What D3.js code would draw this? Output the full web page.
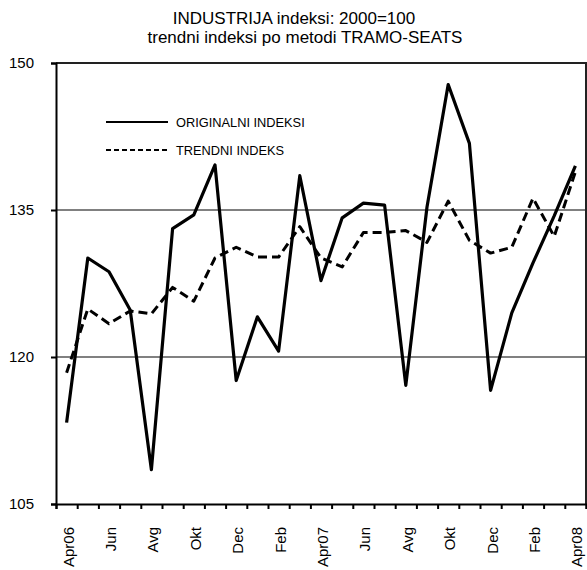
<!doctype html>
<html>
<head>
<script src="https://d3js.org/d3.v7.min.js"></script>
<style>
  body { margin: 0; background: #fff; }
  text { font-family: Arial, "Liberation Sans", sans-serif; fill: #000; }
</style>
</head>
<body>
<svg width="587" height="570"></svg>
<script>
// months Apr06 .. Apr08
var months = ["Apr06","Maj06","Jun06","Jul06","Avg06","Sep06","Okt06","Nov06","Dec06","Jan07","Feb07","Mar07",
              "Apr07","Maj07","Jun07","Jul07","Avg07","Sep07","Okt07","Nov07","Dec07","Jan08","Feb08","Mar08","Apr08"];
// shown tick labels (every second month)
var tickLabels = ["Apr06","Jun","Avg","Okt","Dec","Feb","Apr07","Jun","Avg","Okt","Dec","Feb","Apr08"];
var original = [113.3, 130.1, 128.7, 124.8, 108.5, 133.1, 134.5, 139.6, 117.6, 124.1, 120.6, 138.5,
                127.8, 134.2, 135.7, 135.5, 117.1, 135.3, 147.8, 141.8, 116.6, 124.5, 129.6, 134.4, 139.5];
var trend = [118.4, 124.9, 123.4, 124.7, 124.4, 127.1, 125.7, 130.1, 131.2, 130.2, 130.2, 133.3,
             130.1, 129.2, 132.7, 132.7, 132.9, 131.7, 135.9, 131.9, 130.6, 131.2, 136.2, 132.3, 138.9];
var yTicks = [105, 120, 135, 150];

var svg = d3.select("svg"),
    pLeft = 56, pRight = 586, pTop = 63, pBottom = 504;

var x = d3.scaleBand().domain(months).range([pLeft, pRight]).padding(0);
var xIdx = d3.scaleLinear().domain([0, months.length]).range([pLeft, pRight]);
var y = d3.scaleLinear().domain([105, 150]).range([pBottom, pTop]);

// Title
svg.append("text").attr("x", 294).attr("y", 24).attr("text-anchor", "middle")
   .style("font-size", "17px").text("INDUSTRIJA indeksi: 2000=100");
svg.append("text").attr("x", 305).attr("y", 43).attr("text-anchor", "middle")
   .style("font-size", "17px").text("trendni indeksi po metodi TRAMO-SEATS");

// gridlines
svg.append("g").selectAll("line")
   .data(yTicks.filter(function (d) { return d > 105 && d < 150; }))
   .enter().append("line")
   .attr("x1", pLeft).attr("x2", pRight)
   .attr("y1", function (d) { return y(d); }).attr("y2", function (d) { return y(d); })
   .style("stroke", "#808080").style("stroke-width", 2);

// plot frame (top + right)
svg.append("path")
   .attr("d", "M" + pLeft + "," + pTop + "H" + pRight + "V" + pBottom)
   .style("fill", "none").style("stroke", "#222").style("stroke-width", 2);

// y axis
var yAxis = svg.append("g")
   .attr("transform", "translate(" + pLeft + ",0)")
   .call(d3.axisLeft(y).tickValues(yTicks).tickSize(5).tickPadding(17).tickFormat(d3.format("d")));
yAxis.select(".domain").style("stroke", "#000").style("stroke-width", 2);
yAxis.selectAll(".tick line").style("stroke", "#000").style("stroke-width", 2);
yAxis.selectAll(".tick text").style("font-size", "15px")
   .style("font-family", "Arial, 'Liberation Sans', sans-serif").attr("fill", "#000");

// x axis: ticks between months
var xAxis = svg.append("g")
   .attr("transform", "translate(0," + pBottom + ")")
   .call(d3.axisBottom(xIdx).tickValues(d3.range(0, months.length + 1)).tickSize(5).tickFormat(""));
xAxis.select(".domain").style("stroke", "#000").style("stroke-width", 2);
xAxis.selectAll(".tick line").style("stroke", "#000").style("stroke-width", 2);

// x labels, rotated
svg.append("g").selectAll("text")
   .data(tickLabels)
   .enter().append("text")
   .attr("text-anchor", "end")
   .attr("transform", function (d, i) {
       return "translate(" + (x(months[i * 2]) + x.bandwidth() / 2 + 7) + ",527)rotate(-90)";
   })
   .style("font-size", "15px")
   .text(function (d) { return d; });

var line = d3.line()
   .x(function (d, i) { return x(months[i]) + x.bandwidth() / 2; })
   .y(function (d) { return y(d); });

svg.append("path").datum(trend).attr("d", line)
   .style("fill", "none").style("stroke", "#000").style("stroke-width", 3)
   .style("stroke-dasharray", "9,5").style("stroke-linejoin", "round");

svg.append("path").datum(original).attr("d", line)
   .style("fill", "none").style("stroke", "#000").style("stroke-width", 3.2)
   .style("stroke-linejoin", "round");

// legend
var legend = [{ name: "ORIGINALNI INDEKSI", dash: null, yy: 122 },
              { name: "TRENDNI INDEKS", dash: "5,3", yy: 150 }];
var lg = svg.append("g").selectAll("g").data(legend).enter().append("g");
lg.append("line").attr("x1", 106).attr("x2", 168)
   .attr("y1", function (d) { return d.yy; }).attr("y2", function (d) { return d.yy; })
   .style("stroke", "#000").style("stroke-width", 1.8)
   .style("stroke-dasharray", function (d) { return d.dash; });
lg.append("text").attr("x", 176).attr("y", function (d) { return d.yy + 4.5; })
   .style("font-size", "12.8px").text(function (d) { return d.name; });
</script>
</body>
</html>
